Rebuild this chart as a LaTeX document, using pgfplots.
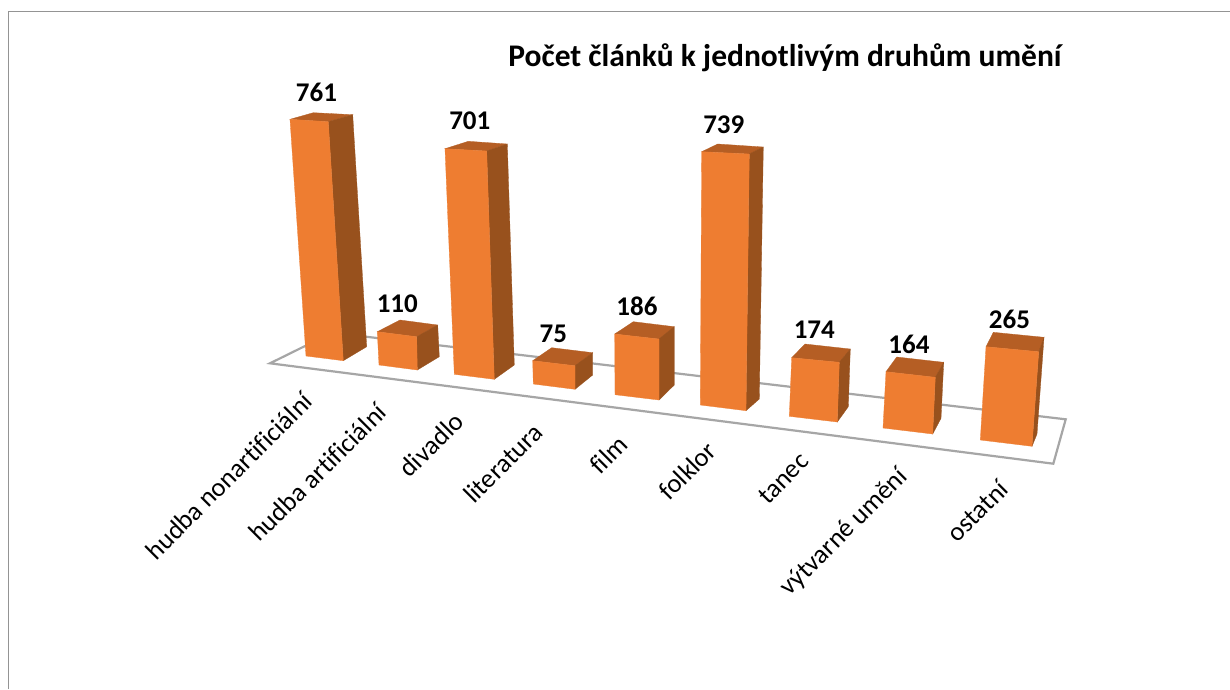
\documentclass[border=0pt]{standalone}
\usepackage{pgfplots}
\usepackage{pgfplotstable}
\usepackage{fontspec}
\setmainfont{Carlito}[Ligatures=NoCommon]
\pgfplotsset{compat=1.18}
\definecolor{fr}{HTML}{EE7D31}
\definecolor{sd}{HTML}{98511D}
\definecolor{tp}{HTML}{B55E24}
\definecolor{gr}{HTML}{A6A6A6}
\pgfplotstableread[col sep=comma]{
x,y,v
316.5,92,761
397.3,304,110
469.8,121,701
553.3,334,75
637,306.7,186
723.8,125,739
814.3,330,174
909,344,164
1009.5,319,265
}\vals
\pgfplotstableread[col sep=comma]{
x,y,n
308,397,hudba nonartificiální
382,408,hudba artificiální
459,417,divadlo
538,428,literatura
623,440,film
712,446,folklor
804.5,457,tanec
904,473,výtvarné umění
1004,485,ostatní
}\cats
\pgfplotstableread[col sep=comma]{
x,y,n
785,58,Počet článků k jednotlivým druhům umění
}\ttl
\tikzset{
 fp/.style={fill=fr,draw=fr,line width=.3pt},
 sp/.style={fill=sd,draw=sd,line width=.3pt},
 tpp/.style={fill=tp,draw=tp,line width=.3pt},
}
\begin{document}
\begin{tikzpicture}
\begin{axis}[
  at={(0,0)},anchor=south west,scale only axis,width=1230pt,height=689pt,
  xmin=0,xmax=1230,ymin=0,ymax=689,y dir=reverse,hide axis,clip=true]
% frame
\addplot[draw=none,fill=white,forget plot] coordinates {(0,0)(1230,0)(1230,689)(0,689)} -- cycle;
\addplot[draw=black!42,line width=1.6pt] coordinates {(8.5,689)(8.5,11.5)(1230,11.5)};
% floor
\addplot[draw=gr,line width=2.2pt,fill=white] coordinates {(270,363.3)(332,332.7)(1065.7,419.3)(1053.3,463.7)} -- cycle;
% 761
\addplot[tpp] coordinates {(290,119.3)(313.3,112.7)(352.7,114.7)(328.3,121.7)} -- cycle;
\addplot[sp] coordinates {(328.3,121.7)(352.7,114.7)(366.7,346.7)(343.3,360.7)} -- cycle;
\addplot[fp] coordinates {(290,119.3)(328.3,121.7)(343.3,360.7)(306,356)} -- cycle;
% 110
\addplot[tpp] coordinates {(377.3,331.7)(400,320)(437.7,325)(416.7,336.7)} -- cycle;
\addplot[sp] coordinates {(416.7,336.7)(437.7,325)(439.3,356.7)(417.3,370)} -- cycle;
\addplot[fp] coordinates {(377.3,331.7)(416.7,336.7)(417.3,370)(379,365)} -- cycle;
% 701
\addplot[tpp] coordinates {(445,148.7)(468.3,141.3)(507.3,144)(486.7,151)} -- cycle;
\addplot[sp] coordinates {(486.7,151)(507.3,144)(514.3,365)(494.3,379.3)} -- cycle;
\addplot[fp] coordinates {(445,148.7)(486.7,151)(494.3,379.3)(454.3,374.3)} -- cycle;
% 75
\addplot[tpp] coordinates {(532.7,360.7)(551.7,347.7)(592.7,352.7)(575,365.7)} -- cycle;
\addplot[sp] coordinates {(575,365.7)(592.7,352.7)(592.7,375)(575,389.3)} -- cycle;
\addplot[fp] coordinates {(532.7,360.7)(575,365.7)(575,389.3)(533.3,384)} -- cycle;
% 186
\addplot[tpp] coordinates {(614.7,334)(633.3,321.7)(674.3,326.7)(659,339)} -- cycle;
\addplot[sp] coordinates {(659,339)(674.3,326.7)(674.3,385)(659,400)} -- cycle;
\addplot[fp] coordinates {(614.7,334)(659,339)(659,400)(615,394.7)} -- cycle;
% 739
\addplot[tpp] coordinates {(701.7,151.7)(717.7,144)(763.3,147)(749.3,154)} -- cycle;
\addplot[sp] coordinates {(749.3,154)(763.3,147)(759.3,399)(746,410.7)} -- cycle;
\addplot[fp] coordinates {(701.7,151.7)(749.3,154)(746,410.7)(700.3,405)} -- cycle;
% 174
\addplot[tpp] coordinates {(791.7,357.7)(805,344)(850.3,349)(839.3,362.3)} -- cycle;
\addplot[sp] coordinates {(839.3,362.3)(850.3,349)(848.3,406.7)(837.3,422)} -- cycle;
\addplot[fp] coordinates {(791.7,357.7)(839.3,362.3)(837.3,422)(789.3,416.3)} -- cycle;
% 164
\addplot[tpp] coordinates {(886,371.7)(896.7,357)(943.7,362.3)(935.3,377.3)} -- cycle;
\addplot[sp] coordinates {(935.3,377.3)(943.7,362.3)(941,418.3)(932.7,434)} -- cycle;
\addplot[fp] coordinates {(886,371.7)(935.3,377.3)(932.7,434)(883,428)} -- cycle;
% 265
\addplot[tpp] coordinates {(986,346.7)(993.3,332.3)(1044,337.3)(1038.7,351.7)} -- cycle;
\addplot[sp] coordinates {(1038.7,351.7)(1044,337.3)(1037,434)(1032,446.3)} -- cycle;
\addplot[fp] coordinates {(986,346.7)(1038.7,351.7)(1032,446.3)(980.3,440)} -- cycle;
% value labels
\addplot[draw=none,mark=none,nodes near coords,point meta=explicit,
  nodes near coords style={anchor=center,font=\fontsize{27}{30}\selectfont\bfseries,text=black,inner sep=0pt,/pgf/number format/assume math mode=true,/pgf/number format/.cd,1000 sep={}}]
  table[x=x,y=y,meta=v,col sep=comma] {\vals};
% category labels
\addplot[draw=none,mark=none,nodes near coords,point meta=explicit symbolic,
  nodes near coords style={anchor=east,rotate=45,font=\fontsize{26.5}{30}\selectfont,text=black,inner sep=0pt}]
  table[x=x,y=y,meta=n,col sep=comma] {\cats};
% title
\addplot[draw=none,mark=none,nodes near coords,point meta=explicit symbolic,
  nodes near coords style={anchor=center,font=\fontsize{31.5}{36}\selectfont\bfseries,text=black,inner sep=0pt}]
  table[x=x,y=y,meta=n,col sep=comma] {\ttl};
\end{axis}
\end{tikzpicture}
\end{document}
